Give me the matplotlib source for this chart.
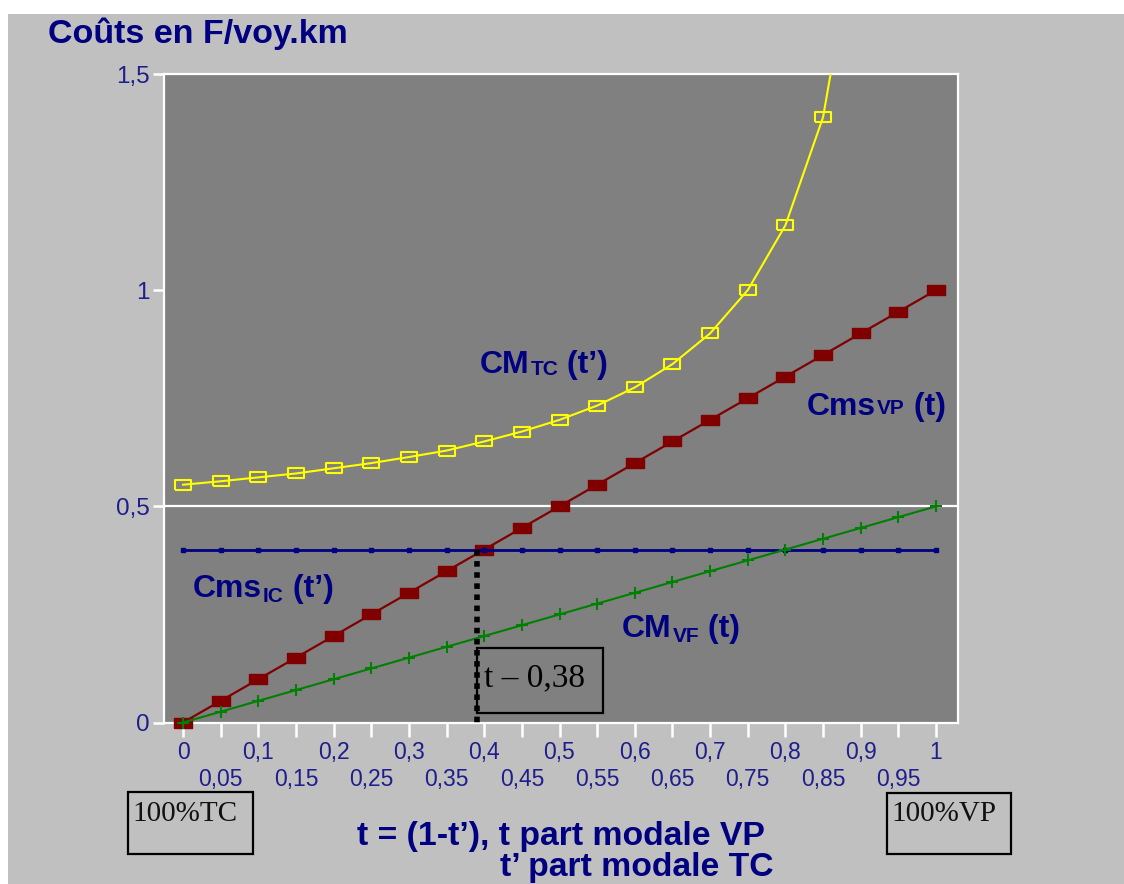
import matplotlib
matplotlib.use('Agg')
import matplotlib.pyplot as plt
from matplotlib.patches import Rectangle

plt.rcParams['font.family'] = ['Liberation Sans', 'DejaVu Sans']

# ---------------- data ----------------
t_values = [0.00, 0.05, 0.10, 0.15, 0.20, 0.25, 0.30, 0.35, 0.40, 0.45, 0.50,
            0.55, 0.60, 0.65, 0.70, 0.75, 0.80, 0.85, 0.90, 0.95, 1.00]
cms_vp = [0.00, 0.05, 0.10, 0.15, 0.20, 0.25, 0.30, 0.35, 0.40, 0.45, 0.50,
          0.55, 0.60, 0.65, 0.70, 0.75, 0.80, 0.85, 0.90, 0.95, 1.00]
cm_vp = [0.000, 0.025, 0.050, 0.075, 0.100, 0.125, 0.150, 0.175, 0.200, 0.225, 0.250,
         0.275, 0.300, 0.325, 0.350, 0.375, 0.400, 0.425, 0.450, 0.475, 0.500]
cms_tc = [0.40, 0.40, 0.40, 0.40, 0.40, 0.40, 0.40, 0.40, 0.40, 0.40, 0.40,
          0.40, 0.40, 0.40, 0.40, 0.40, 0.40, 0.40, 0.40, 0.40, 0.40]
t_tc = [0.00, 0.05, 0.10, 0.15, 0.20, 0.25, 0.30, 0.35, 0.40, 0.45, 0.50,
        0.55, 0.60, 0.65, 0.70, 0.75, 0.80, 0.85, 0.90]
cm_tc = [0.550, 0.558, 0.567, 0.576, 0.588, 0.600, 0.614, 0.629, 0.650, 0.673, 0.700,
         0.733, 0.775, 0.829, 0.900, 1.000, 1.150, 1.400, 1.900]

x_major = [0.0, 0.1, 0.2, 0.3, 0.4, 0.5, 0.6, 0.7, 0.8, 0.9, 1.0]
x_major_labels = ['0', '0,1', '0,2', '0,3', '0,4', '0,5', '0,6', '0,7', '0,8', '0,9', '1']
x_minor = [0.05, 0.15, 0.25, 0.35, 0.45, 0.55, 0.65, 0.75, 0.85, 0.95]
x_minor_labels = ['0,05', '0,15', '0,25', '0,35', '0,45', '0,55', '0,65', '0,75', '0,85', '0,95']
y_ticks = [0, 0.5, 1, 1.5]
y_labels = ['0', '0,5', '1', '1,5']

t_star = 0.39
t_star_text = 't – 0,38'

# ---------------- figure ----------------
W, H = 1124, 884
NAVY = '#000080'
TICKC = '#1e1e8c'
BG = '#c0c0c0'

fig = plt.figure(figsize=(W / 100, H / 100), dpi=100)
fig.patch.set_facecolor('white')
fig.add_artist(Rectangle((8 / W, 0), 1 - 8 / W, (H - 14) / H, transform=fig.transFigure,
                         facecolor=BG, edgecolor='none', zorder=0))

ax_l, ax_r, ax_t, ax_b = 164, 958, 74, 722.5
ax = fig.add_axes([ax_l / W, (H - ax_b) / H, (ax_r - ax_l) / W, (ax_b - ax_t) / H])
ax.set_facecolor('#808080')
x0_px, scale = 183, 753
ax.set_xlim((ax_l - x0_px) / scale, (ax_r - x0_px) / scale)
ax.set_ylim(0, 1.5)

for s in ax.spines.values():
    s.set_color('white')
    s.set_linewidth(1.6)

ax.set_xticks(x_major)
ax.set_xticklabels(x_major_labels)
ax.set_xticks(x_minor, minor=True)
ax.set_xticklabels(x_minor_labels, minor=True)
ax.tick_params(axis='x', which='both', direction='out', length=10, width=1.8,
               colors='white', labelcolor=TICKC, labelsize=16.5)
ax.tick_params(axis='x', which='major', pad=3)
ax.tick_params(axis='x', which='minor', pad=23)
ax.set_yticks(y_ticks)
ax.set_yticklabels(y_labels)
ax.tick_params(axis='y', direction='out', length=8, width=1.8, colors='white',
               labelcolor=TICKC, labelsize=17.5, pad=2)

ax.axhline(0.5, color='white', lw=1.6, zorder=1)

rect_marker = [(-1, -0.62), (1, -0.62), (1, 0.62), (-1, 0.62), (-1, -0.62)]

ax.plot(t_tc, cm_tc, color='#ffff00', lw=1.5, marker=rect_marker, ms=11,
        mfc='none', mec='#ffff00', mew=1.5, zorder=3)
ax.plot(t_values, cms_vp, color='#800000', lw=1.6, marker=rect_marker, ms=12.5,
        mfc='#800000', mec='#800000', zorder=3, clip_on=False)
ax.plot(t_values, cms_tc, color=NAVY, lw=2, marker='s', ms=3, mfc=NAVY, mec=NAVY, zorder=4)
ax.plot(t_values, cm_vp, color='#008000', lw=1.5, marker='+', ms=9, mew=1.5, zorder=4,
        clip_on=False)

# dotted drop line at t*
ax.plot([t_star, t_star], [cms_tc[0], -0.008], color='black', lw=4,
        ls=(0, (1, 1)), dash_capstyle='butt', zorder=5, clip_on=False)

r = fig.canvas.get_renderer()


def px_box(x1, y1, x2, y2, face):
    fig.add_artist(Rectangle((x1 / W, 1 - y2 / H), (x2 - x1) / W, (y2 - y1) / H,
                             transform=fig.transFigure, facecolor=face,
                             edgecolor='black', lw=1.6, zorder=6))


px_box(477, 648, 603, 713, 'none')
fig.text(484 / W, 1 - 686 / H, t_star_text, family='Liberation Serif', fontsize=24,
         color='black', va='baseline', zorder=7)

px_box(128, 792, 253, 854, BG)
fig.text(132 / W, 1 - 821 / H, '100%TC', family='Liberation Serif', fontsize=21,
         color='#111111', va='baseline', zorder=7)
px_box(887, 793, 1011, 854, BG)
fig.text(891 / W, 1 - 821 / H, '100%VP', family='Liberation Serif', fontsize=21,
         color='#111111', va='baseline', zorder=7)

# title and axis titles
fig.text(48 / W, 1 - 43 / H, 'Coûts en F/voy.km', fontsize=24.5, fontweight='bold',
         color=NAVY, va='baseline')
fig.text(357 / W, 1 - 845 / H, 't = (1-t’), t part modale VP', fontsize=24.3,
         fontweight='bold', color=NAVY, va='baseline')
fig.text(500 / W, 1 - 876 / H, 't’ part modale TC', fontsize=24.3,
         fontweight='bold', color=NAVY, va='baseline')


def sub_label(x_px, base_px, main, sub, rest, sub_drop):
    y = 1 - base_px / H
    t1 = fig.text(x_px / W, y, main, fontsize=23, fontweight='bold', color=NAVY,
                  va='baseline', zorder=7)
    bb = t1.get_window_extent(r)
    t2 = fig.text((bb.x1 + 1) / W, y - sub_drop / H, sub, fontsize=15, fontweight='bold',
                  color=NAVY, va='baseline', zorder=7)
    bb2 = t2.get_window_extent(r)
    fig.text(bb2.x1 / W, y, rest, fontsize=23, fontweight='bold', color=NAVY,
             va='baseline', zorder=7)


sub_label(480, 373, 'CM', 'TC', ' (t’)', 2)
sub_label(807, 415, 'Cms', 'VP', ' (t)', -1)
sub_label(193, 597, 'Cms', 'IC', ' (t’)', 5)
sub_label(622, 637, 'CM', 'VF', ' (t)', 5)

fig.savefig('out.png', dpi=100)
